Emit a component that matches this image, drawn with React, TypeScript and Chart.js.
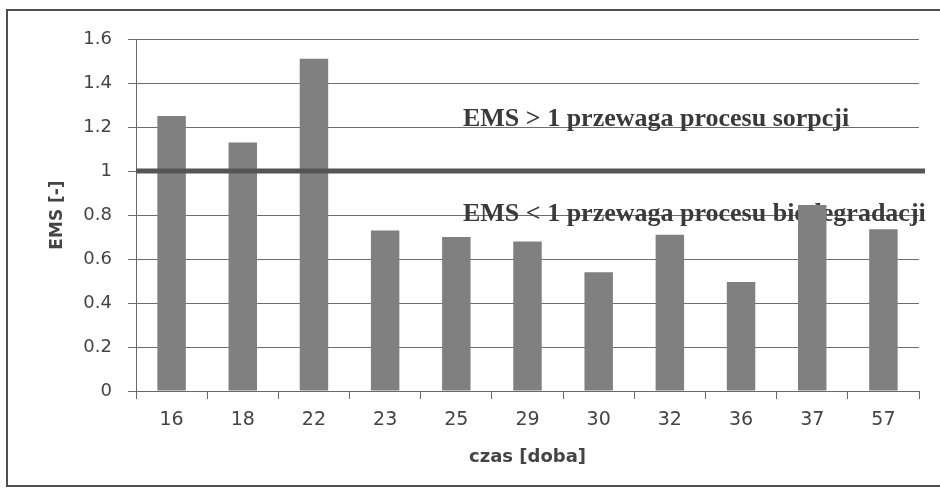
import React, { useEffect, useRef } from "react";
import { Chart, registerables } from "chart.js";

Chart.register(...registerables);

const categories = ["16", "18", "22", "23", "25", "29", "30", "32", "36", "37", "57"];
const emsValues = [1.25, 1.13, 1.51, 0.73, 0.7, 0.68, 0.54, 0.71, 0.495, 0.845, 0.735];
const yMin = 0;
const yMax = 1.6;
const yStep = 0.2;
const thresholdValue = 1;
const upperNote = "EMS > 1 przewaga procesu sorpcji";
const lowerNote = "EMS < 1 przewaga procesu biodegradacji";
const xTitle = "czas [doba]";
const yTitle = "EMS [-]";

const pageBorder = {
  id: "pageBorder",
  beforeDraw(chart: any) {
    const { ctx, width, height } = chart;
    ctx.save();
    ctx.fillStyle = "#ffffff";
    ctx.fillRect(0, 0, width, height);
    ctx.strokeStyle = "#505050";
    ctx.lineWidth = 2;
    ctx.beginPath();
    ctx.moveTo(width, 10);
    ctx.lineTo(7, 10);
    ctx.lineTo(7, 486);
    ctx.lineTo(width, 486);
    ctx.stroke();
    ctx.restore();
  },
};

const notes = {
  id: "notes",
  beforeDatasetsDraw(chart: any) {
    const { ctx, chartArea } = chart;
    const y = chart.scales.y;
    const x0 = chartArea.left + (chartArea.right - chartArea.left) * 0.4176;
    ctx.save();
    ctx.font = "bold 26px 'Liberation Serif'";
    ctx.fillStyle = "#3a3a3a";
    ctx.textAlign = "left";
    ctx.textBaseline = "alphabetic";
    ctx.fillText(upperNote, x0, y.getPixelForValue(1.2) - 1);
    ctx.fillText(lowerNote, x0, y.getPixelForValue(0.8) + 6);
    ctx.restore();
  },
  afterDatasetsDraw(chart: any) {
    const { ctx, chartArea } = chart;
    const yp = chart.scales.y.getPixelForValue(thresholdValue);
    ctx.save();
    ctx.strokeStyle = "#555555";
    ctx.lineWidth = 5;
    ctx.beginPath();
    ctx.moveTo(chartArea.left, yp);
    ctx.lineTo(chartArea.right + 6, yp);
    ctx.stroke();
    ctx.restore();
  },
};

export default function App() {
  const ref = useRef<HTMLCanvasElement | null>(null);

  useEffect(() => {
    if (!ref.current) return;
    const chart = new Chart(ref.current, {
      type: "bar",
      data: {
        labels: categories,
        datasets: [
          {
            label: "EMS",
            data: emsValues,
            backgroundColor: "#808080",
            borderWidth: 0,
            barPercentage: 0.4,
            categoryPercentage: 1,
          },
        ],
      },
      options: {
        animation: false,
        responsive: false,
        maintainAspectRatio: false,
        devicePixelRatio: 1,
        layout: { padding: { left: 47, top: 39, right: 21, bottom: 20 } },
        plugins: {
          legend: { display: false },
          tooltip: { enabled: false },
        },
        scales: {
          x: {
            grid: {
              display: true,
              drawOnChartArea: false,
              drawTicks: true,
              tickLength: 8,
              color: "#6a6a6a",
              offset: true,
            },
            border: { display: true, color: "#6a6a6a", width: 1 },
            ticks: {
              color: "#444444",
              font: { family: "'DejaVu Sans'", size: 19 },
              padding: 10,
              maxRotation: 0,
            },
            title: {
              display: true,
              text: xTitle,
              color: "#444444",
              font: { family: "'DejaVu Sans'", size: 18, weight: "bold" },
              padding: { top: 0, bottom: 0 },
            },
            afterFit(scale: any) {
              scale.height = 77;
            },
          },
          y: {
            min: yMin,
            max: yMax,
            grid: {
              color: "#6e6e6e",
              lineWidth: 1,
              tickLength: 8,
            },
            border: { display: true, color: "#6a6a6a", width: 1 },
            ticks: {
              stepSize: yStep,
              color: "#444444",
              font: { family: "'DejaVu Sans'", size: 18 },
              padding: 16,
              callback: (v: any) => String(Math.round(Number(v) * 10) / 10),
            },
            title: {
              display: true,
              text: yTitle,
              color: "#444444",
              font: { family: "'DejaVu Sans'", size: 17, weight: "bold" },
              padding: { top: 0, bottom: 0 },
            },
            afterFit(scale: any) {
              scale.width = 89;
            },
          },
        },
      },
      plugins: [pageBorder, notes],
    });
    return () => chart.destroy();
  }, []);

  return (
    <div style={{ position: "fixed", left: 0, top: 0, width: 940, height: 488 }}>
      <canvas ref={ref} width={940} height={488} style={{ display: "block" }} />
    </div>
  );
}
